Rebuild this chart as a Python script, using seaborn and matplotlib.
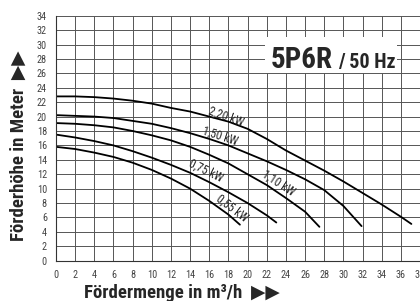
import pandas as pd
import matplotlib
matplotlib.use("Agg")
import matplotlib.pyplot as plt
import seaborn as sns
from matplotlib.patches import Rectangle

# Kennlinien (Fördermenge m3/h -> Förderhöhe m)
q_220 = [0, 2, 4, 6, 8, 10, 12, 14, 16, 18, 20, 22, 24, 26, 28, 30, 32, 34, 36, 37.1]
h_220 = [22.8, 22.8, 22.7, 22.5, 22.2, 21.8, 21.2, 20.7, 20.0, 19.3, 18.3, 16.9, 15.3, 13.9, 12.5, 11.0, 9.4, 7.8, 6.1, 5.1]

q_150 = [0, 2, 4, 6, 8, 10, 12, 14, 16, 18, 20, 22, 24, 26, 28, 30, 31.9]
h_150 = [20.2, 20.1, 20.0, 19.8, 19.4, 19.0, 18.4, 17.7, 16.9, 16.0, 14.9, 13.8, 12.6, 11.3, 9.8, 7.6, 4.8]

q_110 = [0, 2, 4, 6, 8, 10, 12, 14, 16, 18, 20, 22, 24, 26, 27.5]
h_110 = [19.1, 19.0, 18.8, 18.5, 18.0, 17.4, 16.7, 15.8, 14.7, 13.5, 12.0, 10.5, 8.7, 6.8, 4.7]

q_075 = [0, 2, 4, 6, 8, 10, 12, 14, 16, 18, 20, 22, 23]
h_075 = [17.5, 17.1, 16.6, 16.0, 15.2, 14.3, 13.3, 12.2, 10.9, 9.5, 8.0, 6.3, 5.3]

q_055 = [0, 2, 4, 6, 8, 10, 12, 14, 16, 18, 19.2]
h_055 = [15.8, 15.5, 15.0, 14.4, 13.6, 12.6, 11.4, 10.0, 8.3, 6.4, 5.0]

leistung = ["2,20 kW", "1,50 kW", "1,10 kW", "0,75 kW", "0,55 kW"]

frames = []
for name, q, h in zip(leistung,
                      [q_220, q_150, q_110, q_075, q_055],
                      [h_220, h_150, h_110, h_075, h_055]):
    frames.append(pd.DataFrame({"Q": q, "H": h, "P": name}))
df = pd.concat(frames, ignore_index=True)

sns.set_style("white")
narrow = ["Roboto Condensed", "DejaVu Sans"]
plt.rcParams["font.family"] = narrow

fig = plt.figure(figsize=(4.2, 3.01), dpi=100)
ax = fig.add_axes([56 / 420, 1 - 260.7 / 301, 1 - 56 / 420, (260.7 - 15.7) / 301])

sns.lineplot(data=df, x="Q", y="H", hue="P", units="P", estimator=None, sort=False,
             palette=["black"] * 5, linewidth=1.3, legend=False, ax=ax)

ax.set_xlim(0, 38)
ax.set_ylim(0, 34)
ax.set_xticks(range(0, 39, 2))
ax.set_yticks(range(0, 35, 2))
ax.grid(True, color="#555555", linewidth=0.7)
ax.set_axisbelow(True)
for s in ["top", "right"]:
    ax.spines[s].set_visible(False)
for s in ["left", "bottom"]:
    ax.spines[s].set_color("#333333")
    ax.spines[s].set_linewidth(0.8)
ax.tick_params(axis="both", length=4, width=0.7, color="#555555",
               labelsize=7.4, labelcolor="#444444", pad=2.5)
ax.set_xlabel("")
ax.set_ylabel("")

# Beschriftung der Kennlinien
labels_pos = [(17.8, 20.0, -20), (17.1, 17.3, -18), (23.2, 10.8, -33),
              (15.6, 12.5, -26), (18.4, 7.3, -37)]
for name, (x, y, r) in zip(leistung, labels_pos):
    ax.text(x, y, name, rotation=r, fontsize=8.5, ha="center", va="center",
            rotation_mode="anchor")

# Typ-Kasten
ax.add_patch(Rectangle((21.8, 26.0), 13.8, 5.1, facecolor="white", edgecolor="none", zorder=3))
ax.text(22.4, 26.7, "5P6R", fontsize=21, fontweight="bold", va="baseline", ha="left",
        zorder=4)
ax.text(29.4, 26.7, "/ 50 Hz", fontsize=14.5, fontweight="bold", va="baseline", ha="left",
        zorder=4)

fig.text(19 / 420, 1 - 146 / 301, "Förderhöhe in Meter  ▶▶", rotation=90,
         fontsize=13.5, fontweight="bold", ha="center", va="center")
fig.text(182 / 420, 1 - 293 / 301, "Fördermenge in m³/h  ▶▶",
         fontsize=13.5, fontweight="bold", ha="center", va="center")

fig.savefig("out.png", dpi=100)
